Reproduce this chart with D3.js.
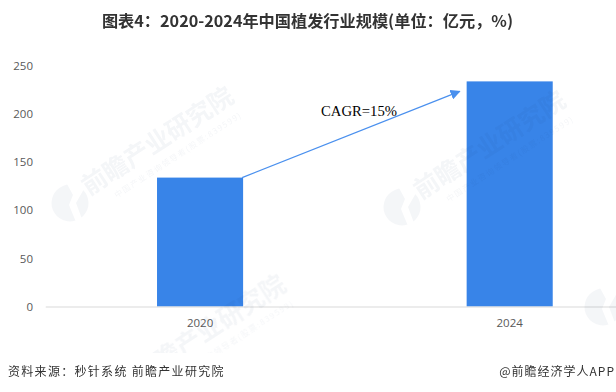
<!DOCTYPE html>
<html>
<head>
<meta charset="utf-8">
<script src="https://cdnjs.cloudflare.com/ajax/libs/d3/7.8.5/d3.min.js"></script>
<style>
  html, body { margin: 0; padding: 0; background: #fff; overflow: hidden; }
  svg { display: block; }
</style>
</head>
<body>
<script>
// data
var years = ["2020", "2024"];
var sizes = [134, 234];
var yTicks = [0, 50, 100, 150, 200, 250];
var cagrLabel = "CAGR=15%";

var titleText = "图表4：2020-2024年中国植发行业规模(单位：亿元，%)";
var sourceText = "资料来源：秒针系统 前瞻产业研究院";
var creditText = "@前瞻经济学人APP";
var markName = "前瞻产业研究院";
var markSub = "中国产业咨询领导者(股票:839599)";

var width = 616, height = 392;
var cjk = "'Noto Sans CJK SC', sans-serif";
var latin = "'Open Sans', 'Noto Sans', sans-serif";
var barColour = "#3884e8";
var arrowColour = "#4a90ee";

var svg = d3.select("body").append("svg")
  .attr("width", width)
  .attr("height", height);

var defs = svg.append("defs");

defs.append("marker")
  .attr("id", "arrow")
  .attr("viewBox", "0 0 10 10")
  .attr("refX", 9)
  .attr("refY", 5)
  .attr("markerUnits", "userSpaceOnUse")
  .attr("markerWidth", 10)
  .attr("markerHeight", 10)
  .attr("orient", "auto")
  .append("path")
    .attr("d", "M0,0L10,5L0,10Z")
    .attr("fill", arrowColour);

defs.append("clipPath")
  .attr("id", "markClip")
  .append("rect")
    .attr("width", width)
    .attr("height", 353);

// scales, the band runs past the right edge like the cropped original
var x = d3.scaleBand()
  .domain(years)
  .range([45.25, 664.5])
  .paddingInner(0.722)
  .paddingOuter(0.361);

var y = d3.scaleLinear()
  .domain([0, 250])
  .range([306.5, 66]);

// bars
svg.selectAll("rect.bar")
  .data(sizes)
  .enter()
  .append("rect")
    .attr("class", "bar")
    .attr("x", function(d, i) { return x(years[i]); })
    .attr("y", function(d) { return y(d); })
    .attr("width", x.bandwidth())
    .attr("height", function(d) { return y(0) - y(d); })
    .attr("fill", barColour);

// y axis
var yAxis = svg.append("g")
  .attr("transform", "translate(33,0)")
  .call(d3.axisLeft(y).tickValues(yTicks).tickSize(0).tickPadding(0));
yAxis.select(".domain").remove();
yAxis.selectAll("text")
  .attr("font-family", latin)
  .attr("font-size", 11.5)
  .attr("fill", "#595959");

// x axis
var xAxis = svg.append("g")
  .attr("transform", "translate(0," + y(0) + ")")
  .call(d3.axisBottom(x).tickSize(0).tickPadding(12));
xAxis.select(".domain")
  .attr("stroke", "#d9d9d9")
  .attr("stroke-width", 1);
xAxis.selectAll("text")
  .attr("font-family", latin)
  .attr("font-size", 11.5)
  .attr("fill", "#595959");

// growth arrow, from the top corner of the first bar towards the second
svg.append("line")
  .attr("x1", x(years[0]) + x.bandwidth() - 1)
  .attr("y1", y(sizes[0]))
  .attr("x2", x(years[1]) - 7)
  .attr("y2", y(sizes[1]) + 10)
  .attr("stroke", arrowColour)
  .attr("stroke-width", 1.2)
  .attr("marker-end", "url(#arrow)");

svg.append("text")
  .attr("x", 321)
  .attr("y", 116)
  .attr("font-family", "'Liberation Serif', serif")
  .attr("font-size", 14.7)
  .attr("fill", "#000")
  .text(cagrLabel);

// watermarks sit over everything but stop above the footer
var marks = svg.append("g")
  .attr("clip-path", "url(#markClip)")
  .attr("opacity", 0.05);

function drawMark(lx, ly, withText) {
  var g = marks.append("g")
    .attr("transform", "translate(" + lx + "," + ly + ")");

  g.append("circle")
    .attr("r", 18.5)
    .attr("fill", "#23406e");

  g.append("path")
    .attr("d", "M-3,-19L3,-8L-1,2L6,19L12,16L6,0L14,-14L8,-19Z")
    .attr("fill", "#fff");

  if (!withText) return;

  var t = g.append("g")
    .attr("transform", "translate(19,-7) rotate(-33)");

  t.append("text")
    .attr("font-family", cjk)
    .attr("font-weight", 700)
    .attr("font-size", 25)
    .attr("fill", "#23406e")
    .text(markName);

  t.append("text")
    .attr("x", 22)
    .attr("y", 17)
    .attr("font-family", cjk)
    .attr("font-size", 8)
    .attr("letter-spacing", 1.4)
    .attr("fill", "#23406e")
    .text(markSub);
}

drawMark(70, 203, true);
drawMark(402, 207, true);
drawMark(122, 391, true);
// this one only shows its logo, the rest runs off the page
drawMark(603, 307, false);

// title and footer
svg.append("text")
  .attr("x", 307.5)
  .attr("y", 26.5)
  .attr("text-anchor", "middle")
  .attr("font-family", cjk)
  .attr("font-weight", 700)
  .attr("font-size", 16.2)
  .attr("fill", "#333")
  .text(titleText);

svg.append("text")
  .attr("x", 8)
  .attr("y", 376)
  .attr("font-family", cjk)
  .attr("font-size", 12)
  .attr("letter-spacing", 1.3)
  .attr("fill", "#333")
  .text(sourceText);

svg.append("text")
  .attr("x", 615)
  .attr("y", 376)
  .attr("text-anchor", "end")
  .attr("font-family", cjk)
  .attr("font-size", 12)
  .attr("letter-spacing", 1)
  .attr("fill", "#333")
  .text(creditText);
</script>
</body>
</html>
